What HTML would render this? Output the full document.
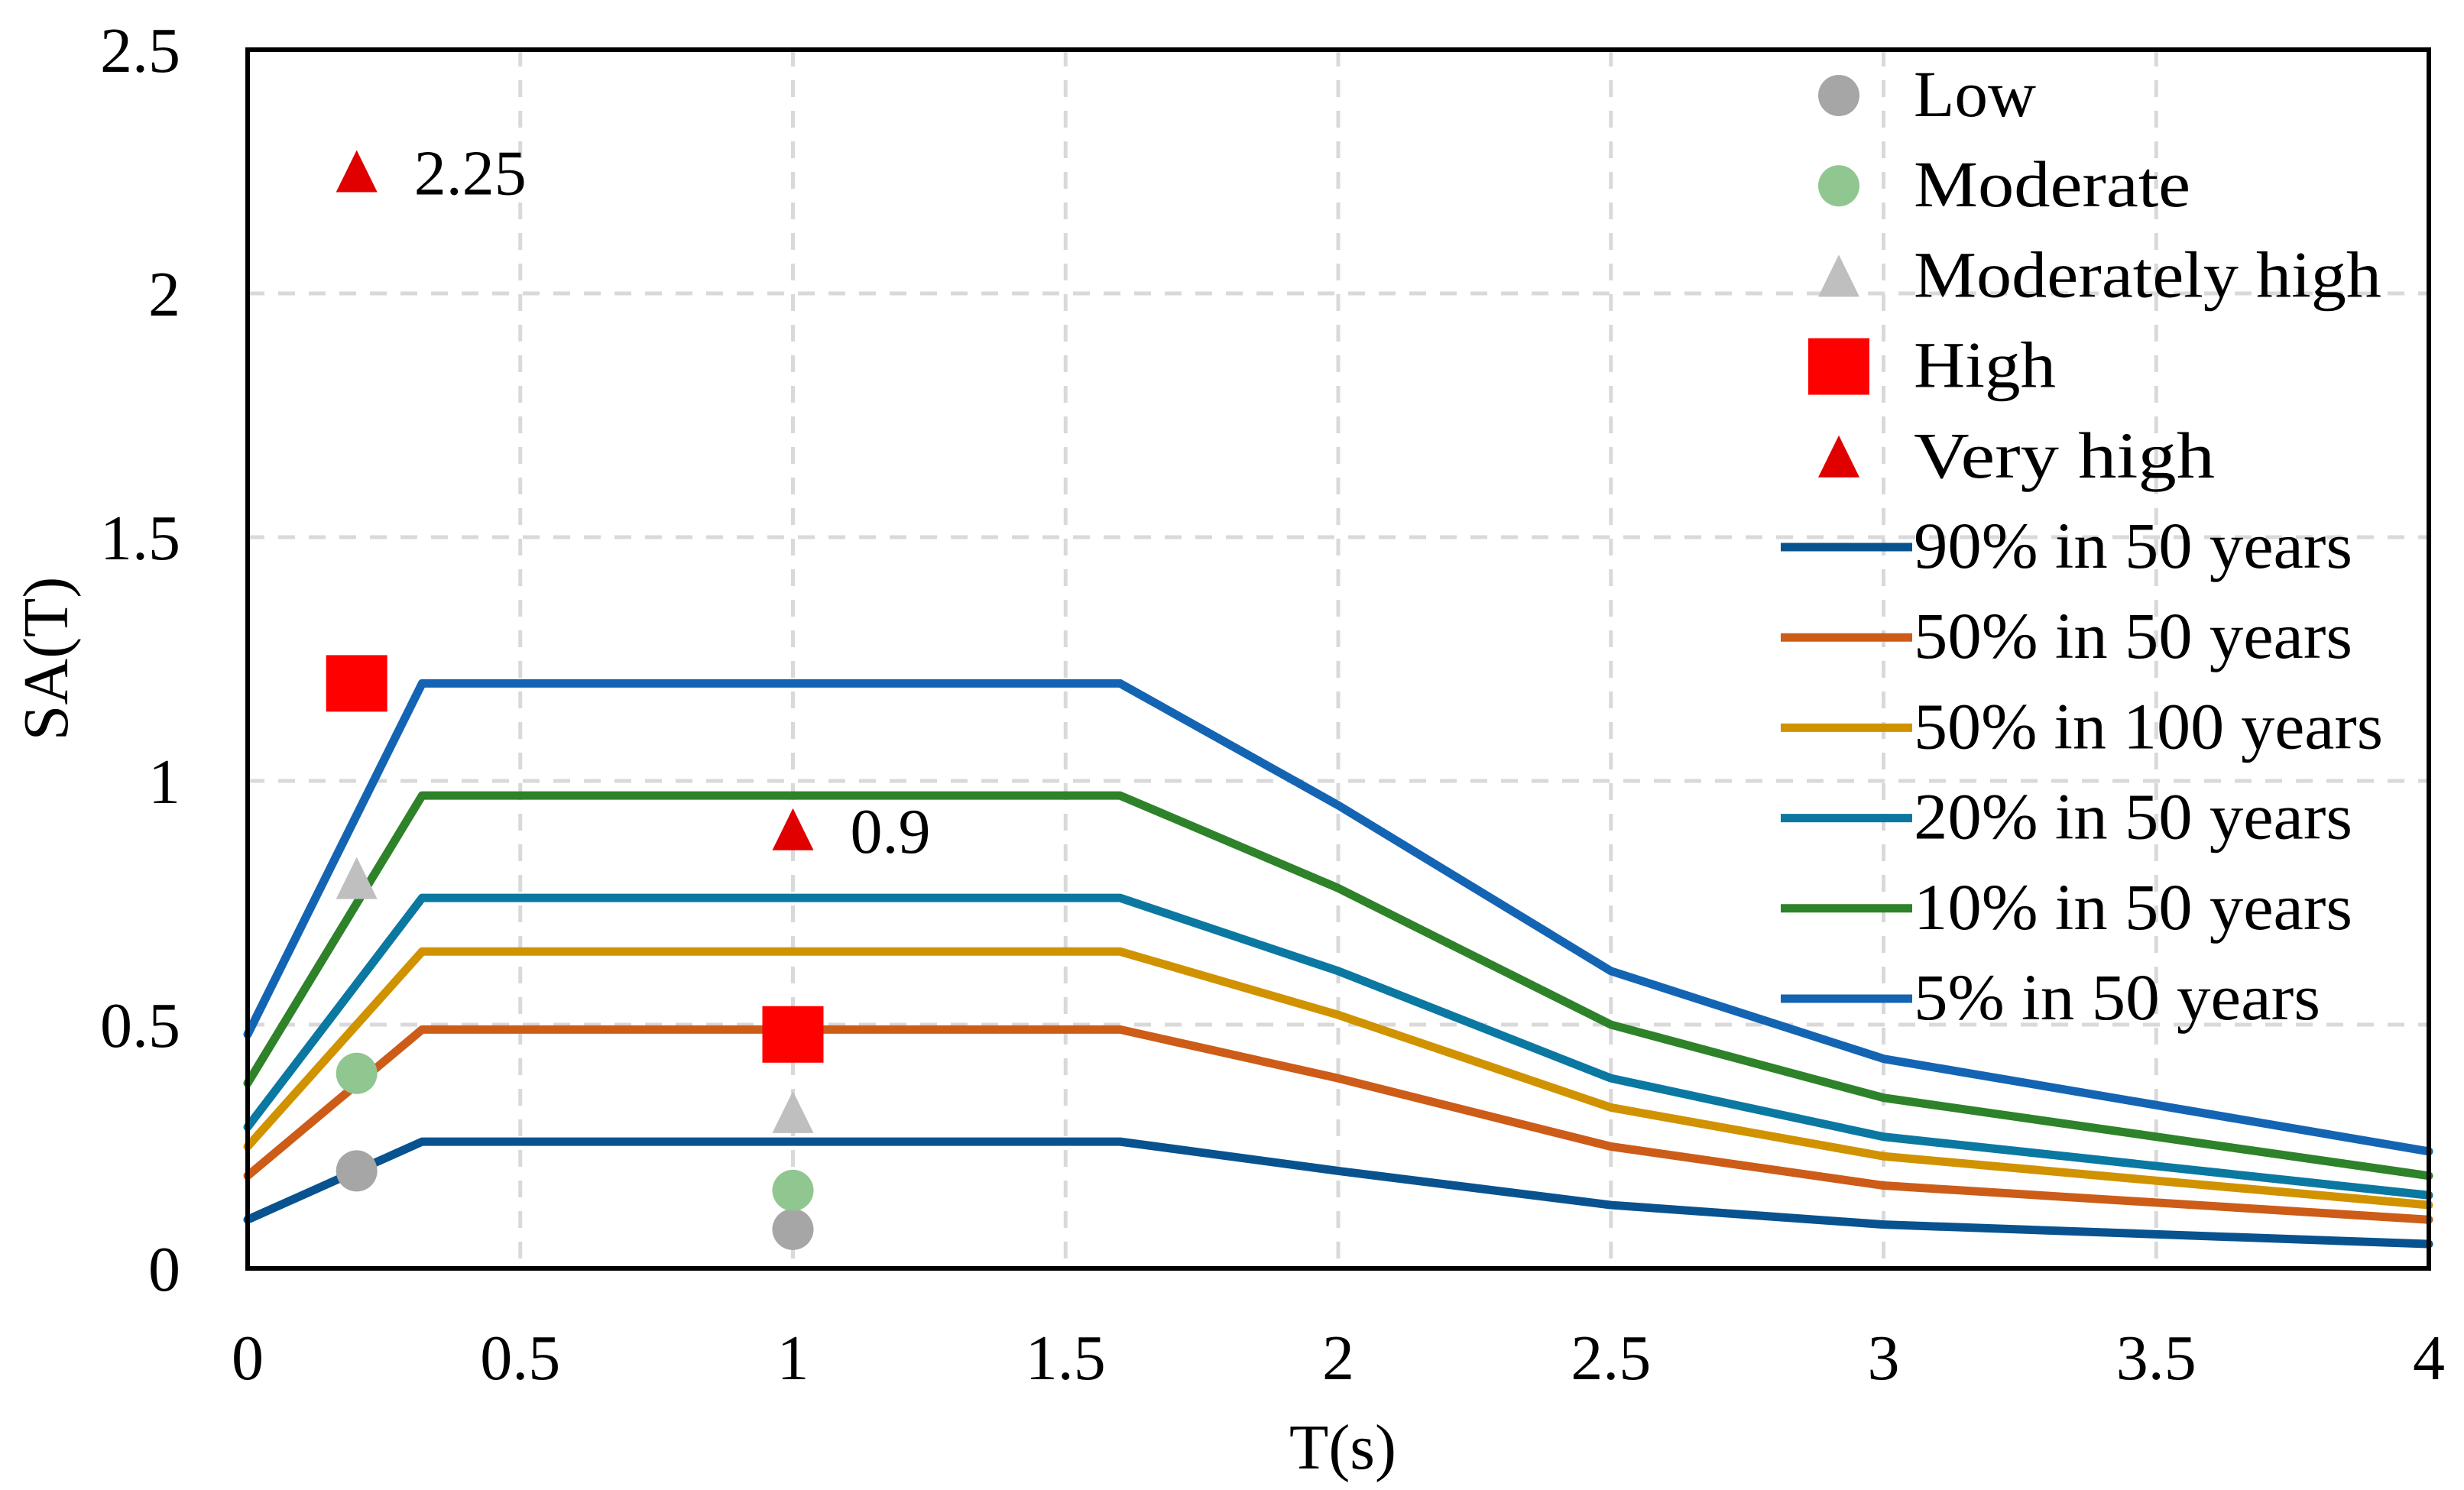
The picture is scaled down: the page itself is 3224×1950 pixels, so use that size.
<!DOCTYPE html>
<html><head><meta charset="utf-8"><style>
html,body{margin:0;padding:0;background:#fff;}
svg{display:block;font-family:"Liberation Serif",serif;}
</style></head><body>
<svg id="chart" width="3224" height="1950" viewBox="0 0 3224 1950" xmlns="http://www.w3.org/2000/svg">
<rect x="0" y="0" width="3224" height="1950" fill="#fff"/>
<g id="grid"></g>
<g id="series"></g>
<g id="markers"></g>
<rect x="324" y="65" width="2854" height="1595" fill="none" stroke="#000" stroke-width="6"/>
<g id="ticks" font-size="84"></g>
<text x="1757" y="1922" font-size="84" text-anchor="middle">T(s)</text>
<text x="0" y="0" font-size="84" text-anchor="middle" transform="translate(88,862) rotate(-90)">SA(T)</text>
<g id="legend" font-size="86"></g>
</svg>
<script>
const periods = [0, 0.32, 1.6, 2, 2.5, 3, 4];
const seriesNames = ["90% in 50 years","50% in 50 years","50% in 100 years","20% in 50 years","10% in 50 years","5% in 50 years"];
const s90_50 = [0.10, 0.26, 0.26, 0.20, 0.13, 0.09, 0.05];
const s50_50 = [0.19, 0.49, 0.49, 0.39, 0.25, 0.17, 0.10];
const s50_100 = [0.25, 0.65, 0.65, 0.52, 0.33, 0.23, 0.13];
const s20_50 = [0.29, 0.76, 0.76, 0.61, 0.39, 0.27, 0.15];
const s10_50 = [0.38, 0.97, 0.97, 0.78, 0.50, 0.35, 0.19];
const s5_50 = [0.48, 1.20, 1.20, 0.95, 0.61, 0.43, 0.24];
const markerNames = ["Low","Moderate","Moderately high","High","Very high"];
const markerT = [0.2, 1.0];
const lowVals = [0.20, 0.08];
const moderateVals = [0.40, 0.16];
const modHighVals = [0.80, 0.32];
const highVals = [1.20, 0.48];
const veryHighVals = [2.25, 0.90];
const xTicks = [0,0.5,1,1.5,2,2.5,3,3.5,4];
const yTicks = [0,0.5,1,1.5,2,2.5];
const xTickLabels = ["0","0.5","1","1.5","2","2.5","3","3.5","4"];
const yTickLabels = ["0","0.5","1","1.5","2","2.5"];

const NS="http://www.w3.org/2000/svg";
const X0=324,X1=3178,Y0=1660,Y1=65;
const xs=v=>X0+(v-0)/4*(X1-X0);
const ys=v=>Y0-(v/2.5)*(Y0-Y1);
function mk(tag,attrs,parent){const e=document.createElementNS(NS,tag);for(const k in attrs)e.setAttribute(k,attrs[k]);parent.appendChild(e);return e;}
const grid=document.getElementById('grid'),ser=document.getElementById('series'),mg=document.getElementById('markers'),tg=document.getElementById('ticks'),lg=document.getElementById('legend');

xTicks.forEach((t,i)=>{
  if(i>0&&i<xTicks.length-1){const l=mk('line',{x1:xs(t),x2:xs(t),y1:Y1,y2:Y0,stroke:'#d9d9d9','stroke-width':5,'stroke-dasharray':'22 18'},grid);
  
  }
  const tx=mk('text',{x:xs(t),y:1805,'text-anchor':'middle'},tg);tx.textContent=xTickLabels[i];
  
  
});
yTicks.forEach((t,i)=>{
  if(i>0&&i<yTicks.length-1){const l=mk('line',{x1:X0,x2:X1,y1:ys(t),y2:ys(t),stroke:'#d9d9d9','stroke-width':5,'stroke-dasharray':'22 18'},grid);
  
  }
  const tx=mk('text',{x:236,y:ys(t)+29,'text-anchor':'end'},tg);tx.textContent=yTickLabels[i];
  
  
});

const seriesData=[s90_50,s50_50,s50_100,s20_50,s10_50,s5_50];
const colors=["#08528f","#cc5c18","#d19200","#0b78a1","#2e8229","#1464b4"];
seriesData.forEach((d,i)=>{
  const p=mk('polyline',{points:periods.map((t,j)=>xs(t)+','+ys(d[j])).join(' '),fill:'none',stroke:colors[i],'stroke-width':11,'stroke-linejoin':'round','stroke-linecap':'round'},ser);
  
  
});

function drawMarker(kind,cx,cy,parent){
  let e;
  if(kind==0) e=mk('circle',{cx:cx,cy:cy,r:27,fill:'#a6a6a6'},parent);
  else if(kind==1) e=mk('circle',{cx:cx,cy:cy,r:27,fill:'#90c690'},parent);
  else if(kind==2) e=mk('polygon',{points:`${cx},${cy-28} ${cx+27},${cy+27} ${cx-27},${cy+27}`,fill:'#bfbfbf'},parent);
  else if(kind==3) e=mk('rect',{x:cx-40,y:cy-37,width:80,height:74,fill:'#ff0000'},parent);
  else e=mk('polygon',{points:`${cx},${cy-28} ${cx+27},${cy+27} ${cx-27},${cy+27}`,fill:'#e00000'},parent);
  return e;
}
const markerData=[lowVals,moderateVals,modHighVals,highVals,veryHighVals];
markerData.forEach((vals,k)=>{
  vals.forEach((v,j)=>{
    const e=drawMarker(k,xs(markerT[j]),ys(v),mg);
    
    
    if(k==4){const t=mk('text',{x:xs(markerT[j])+75,y:ys(v)+30,'font-size':84},mg);t.textContent=String(v);
      
      }
  });
});

const allNames=markerNames.concat(seriesNames);
const lens=[160,362,612,186,394,574,574,614,574,574,532];
allNames.forEach((n,i)=>{
  const cy=125+i*118.2;
  const g=mk('g',{},lg);
  
  
  if(i<5){const m=drawMarker(i,2406,cy,g);
    
    }
  else{const l=mk('line',{x1:2330,x2:2502,y1:cy,y2:cy,stroke:colors[i-5],'stroke-width':11},g);
    
    }
  const t=mk('text',{x:2504,y:cy+27,textLength:lens[i],lengthAdjust:'spacingAndGlyphs'},g);t.textContent=n;
  
  
});
</script>
</body></html>
